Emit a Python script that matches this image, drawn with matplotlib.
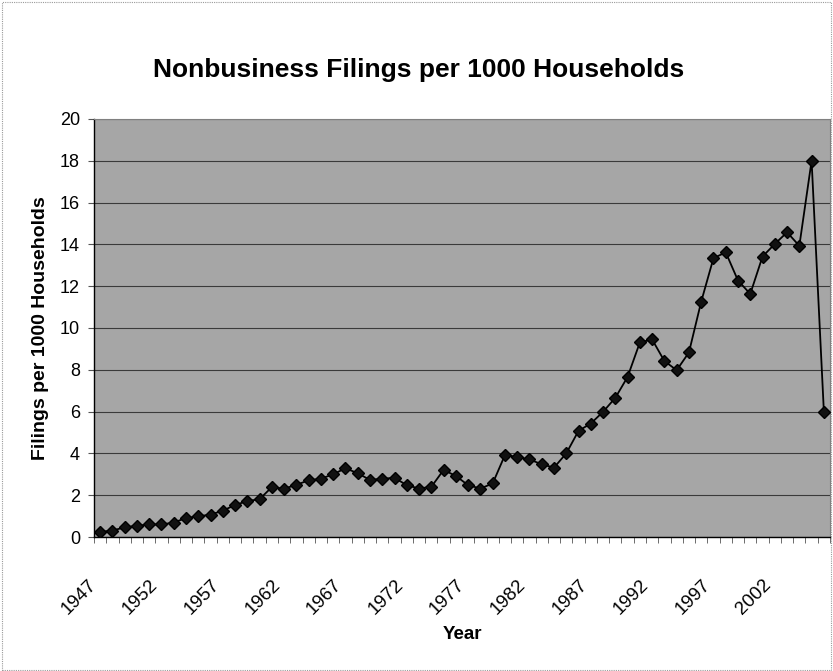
import matplotlib
matplotlib.use("Agg")
import matplotlib.pyplot as plt
from matplotlib.patches import Rectangle
import numpy as np

years = list(range(1947, 2007))
filings = [0.24, 0.31, 0.46, 0.54, 0.60, 0.60, 0.69, 0.91, 0.99, 1.07,
           1.26, 1.53, 1.72, 1.81, 2.39, 2.31, 2.50, 2.71, 2.79, 3.00,
           3.29, 3.05, 2.73, 2.79, 2.83, 2.48, 2.32, 2.40, 3.21, 2.92,
           2.48, 2.32, 2.56, 3.92, 3.83, 3.71, 3.48, 3.32, 4.00, 5.08,
           5.43, 5.99, 6.66, 7.66, 9.31, 9.45, 8.42, 7.98, 8.83, 11.26,
           13.34, 13.62, 12.27, 11.63, 13.42, 14.02, 14.58, 13.93, 18.00, 6.00]
label_years = years[::5][:12]

plt.rcParams["font.family"] = ["Liberation Sans", "DejaVu Sans"]

fig = plt.figure(figsize=(8.33, 6.71), dpi=100)
fig.patches.append(Rectangle((0.002, 0.002), 0.995, 0.995, transform=fig.transFigure,
                             fill=False, edgecolor="#9a9a9a", linewidth=0.8, linestyle=(0, (1, 1))))

ax = fig.add_axes([94 / 833, 1 - 537 / 671, (830 - 94) / 833, (537 - 119) / 671])
ax.set_facecolor("#a6a6a6")

x = np.arange(len(years))
ax.plot(x, filings, color="black", linewidth=1.3, marker="D", markersize=6,
        markerfacecolor="#111111", markeredgecolor="black", zorder=3)

ax.set_xlim(-0.5, len(years) - 0.5)
ax.set_ylim(0, 20)
ax.set_yticks(range(0, 21, 2))
ax.yaxis.grid(True, color="#3a3a3a", linewidth=0.8)
ax.set_axisbelow(True)

ax.set_xticks([years.index(y) for y in label_years])
ax.set_xticklabels([str(y) for y in label_years], rotation=45, ha="right", va="top",
                   fontsize=13.5)
ax.set_xticks(np.arange(-0.5, len(years), 1), minor=True)
ax.tick_params(axis="x", which="major", length=0, pad=28)
ax.tick_params(axis="x", which="minor", length=4, color="#555555", direction="out")
ax.tick_params(axis="y", length=4, labelsize=13, color="#555555", pad=6)

for s in ["left", "bottom"]:
    ax.spines[s].set_color("black")
    ax.spines[s].set_linewidth(1.0)
for s in ["top", "right"]:
    ax.spines[s].set_color("#808080")
    ax.spines[s].set_linewidth(0.8)

ax.set_ylabel("Filings per 1000 Households", fontsize=14, fontweight="bold", labelpad=8)
ax.set_xlabel("Year", fontsize=13.5, fontweight="bold", labelpad=6)
fig.text(0.502, 0.895, "Nonbusiness Filings per 1000 Households", ha="center", va="center",
         fontsize=19, fontweight="bold")

fig.savefig("out.png", dpi=100)
